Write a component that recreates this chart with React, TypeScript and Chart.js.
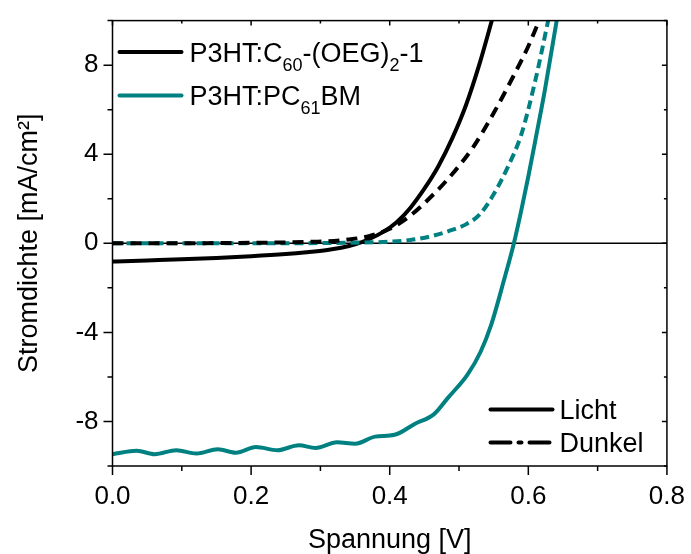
import { useEffect, useRef } from "react";
import { Chart, registerables } from "chart.js";

Chart.register(...registerables);

const FONT = "'Liberation Sans', Arial, sans-serif";
const TEAL = "#008080";
const BLACK = "#000000";

// P3HT:C60-(OEG)2-1, illuminated (Licht)
const c60LightV = [0, 0.05, 0.1, 0.15, 0.2, 0.25, 0.28, 0.31, 0.33, 0.35, 0.37, 0.39, 0.41, 0.43, 0.45, 0.47, 0.49, 0.51, 0.53, 0.55];
const c60LightJ = [-0.82, -0.77, -0.72, -0.66, -0.58, -0.48, -0.4, -0.3, -0.2, -0.05, 0.18, 0.5, 0.95, 1.6, 2.45, 3.45, 4.7, 6.2, 8.1, 10.3];

// P3HT:C60-(OEG)2-1, dark (Dunkel)
const c60DarkV = [0, 0.05, 0.1, 0.15, 0.2, 0.25, 0.28, 0.31, 0.34, 0.37, 0.4, 0.43, 0.46, 0.49, 0.52, 0.55, 0.58, 0.6, 0.615, 0.62];
const c60DarkJ = [0, 0, 0, 0.01, 0.02, 0.04, 0.06, 0.09, 0.17, 0.32, 0.65, 1.25, 2.1, 3.1, 4.3, 5.85, 7.6, 8.85, 9.95, 10.3];

// P3HT:PC61BM, illuminated (Licht)
const pcbmLightV = [0, 0.035, 0.061, 0.092, 0.121, 0.152, 0.178, 0.207, 0.238, 0.269, 0.293, 0.324, 0.35, 0.379, 0.407, 0.436, 0.464, 0.484, 0.512, 0.531, 0.546, 0.565, 0.579, 0.59, 0.6, 0.61, 0.624, 0.642];
const pcbmLightJ = [-9.47, -9.32, -9.47, -9.29, -9.44, -9.25, -9.4, -9.15, -9.29, -9.07, -9.19, -8.93, -9.0, -8.68, -8.6, -8.11, -7.67, -6.94, -5.91, -4.88, -3.7, -1.64, -0.02, 1.5, 3.0, 4.6, 6.9, 10.2];

// P3HT:PC61BM, dark (Dunkel)
const pcbmDarkV = [0, 0.1, 0.2, 0.3, 0.35, 0.4, 0.43, 0.46, 0.49, 0.51, 0.53, 0.55, 0.57, 0.59, 0.61, 0.63];
const pcbmDarkJ = [0, 0, 0, 0.01, 0.03, 0.07, 0.15, 0.32, 0.6, 0.85, 1.3, 2.2, 3.4, 4.9, 7.3, 10.2];

const xLabelValues = [0, 0.2, 0.4, 0.6, 0.8];
const yLabelValues = [-8, -4, 0, 4, 8];

const xTitle = "Spannung [V]";
const yTitle = "Stromdichte [mA/cm²]";

const materialLegend = [
  { color: BLACK, runs: [{ t: "P3HT:C" }, { t: "60", sub: true }, { t: "-(OEG)" }, { t: "2", sub: true }, { t: "-1" }] },
  { color: TEAL, runs: [{ t: "P3HT:PC" }, { t: "61", sub: true }, { t: "BM" }] },
];
const modeLegend = [
  { label: "Licht", dash: [] as number[] },
  { label: "Dunkel", dash: [20, 8, 3, 8] },
];

const pts = (v: number[], j: number[]) => v.map((x, i) => ({ x, y: j[i] }));

const isLabeled = (list: number[], v: number) => list.some((l) => Math.abs(l - v) < 1e-6);

const framePlugin = {
  id: "frame",
  beforeDatasetsDraw(chart: any) {
    const { ctx, chartArea: a, scales } = chart;
    const y0 = scales.y.getPixelForValue(0);
    ctx.save();
    ctx.strokeStyle = BLACK;
    ctx.lineWidth = 1.5;
    ctx.beginPath();
    ctx.moveTo(a.left, y0);
    ctx.lineTo(a.right, y0);
    ctx.stroke();
    ctx.restore();
  },
  afterDatasetsDraw(chart: any) {
    const { ctx, chartArea: a, scales } = chart;
    ctx.save();
    ctx.strokeStyle = BLACK;
    ctx.lineWidth = 1.5;
    ctx.strokeRect(a.left, a.top, a.right - a.left, a.bottom - a.top);
    ctx.beginPath();
    for (const t of scales.x.ticks) {
      const px = scales.x.getPixelForValue(t.value);
      const major = isLabeled(xLabelValues, t.value);
      ctx.moveTo(px, a.bottom);
      ctx.lineTo(px, a.bottom + (major ? 9 : 5));
      ctx.moveTo(px, a.top);
      ctx.lineTo(px, a.top + (major ? 5 : 3));
    }
    for (const t of scales.y.ticks) {
      const py = scales.y.getPixelForValue(t.value);
      const major = isLabeled(yLabelValues, t.value);
      ctx.moveTo(a.left, py);
      ctx.lineTo(a.left - (major ? 9 : 5), py);
      ctx.moveTo(a.right, py);
      ctx.lineTo(a.right - (major ? 5 : 3), py);
    }
    ctx.stroke();
    ctx.restore();
  },
};

const legendPlugin = {
  id: "customLegend",
  afterDraw(chart: any) {
    const { ctx, chartArea: a } = chart;
    const big = 27;
    const small = 18;
    ctx.save();
    ctx.textBaseline = "alphabetic";
    ctx.textAlign = "left";
    materialLegend.forEach((item, i) => {
      const ly = a.top + 31.5 + i * 43.3;
      ctx.strokeStyle = item.color;
      ctx.lineWidth = 4;
      ctx.lineCap = "round";
      ctx.setLineDash([]);
      ctx.beginPath();
      ctx.moveTo(a.left + 7, ly);
      ctx.lineTo(a.left + 69, ly);
      ctx.stroke();
      let x = a.left + 77;
      const base = ly + 9.5;
      ctx.fillStyle = BLACK;
      for (const r of item.runs as { t: string; sub?: boolean }[]) {
        ctx.font = `${r.sub ? small : big}px ${FONT}`;
        ctx.fillText(r.t, x, r.sub ? base + 9.5 : base);
        x += ctx.measureText(r.t).width;
      }
    });
    modeLegend.forEach((item, i) => {
      const ly = a.bottom - 56.5 + i * 33;
      ctx.strokeStyle = BLACK;
      ctx.lineWidth = 4;
      ctx.lineCap = "round";
      ctx.setLineDash(item.dash);
      ctx.beginPath();
      ctx.moveTo(a.left + 378, ly);
      ctx.lineTo(a.left + 440, ly);
      ctx.stroke();
      ctx.setLineDash([]);
      ctx.font = `${big}px ${FONT}`;
      ctx.fillStyle = BLACK;
      ctx.fillText(item.label, a.left + 447, ly + 9.5);
    });
    ctx.restore();
  },
};

export default function App() {
  const ref = useRef<HTMLCanvasElement | null>(null);
  useEffect(() => {
    if (!ref.current) return;
    const common = { showLine: true, pointRadius: 0, borderWidth: 4, cubicInterpolationMode: "monotone" as const, clip: 0 };
    const chart = new Chart(ref.current, {
      type: "scatter",
      data: {
        datasets: [
          { ...common, label: "P3HT:C60-(OEG)2-1 Dunkel", data: pts(c60DarkV, c60DarkJ), borderColor: BLACK, borderDash: [11, 7] },
          { ...common, label: "P3HT:PC61BM Dunkel", data: pts(pcbmDarkV, pcbmDarkJ), borderColor: TEAL, borderDash: [9, 5] },
          { ...common, label: "P3HT:C60-(OEG)2-1 Licht", data: pts(c60LightV, c60LightJ), borderColor: BLACK },
          { ...common, label: "P3HT:PC61BM Licht", data: pts(pcbmLightV, pcbmLightJ), borderColor: TEAL },
        ],
      },
      options: {
        animation: false,
        responsive: false,
        devicePixelRatio: 1,
        layout: { padding: { top: 13, right: 19.5, left: 0, bottom: 0 } },
        plugins: { legend: { display: false }, tooltip: { enabled: false } },
        scales: {
          x: {
            type: "linear",
            min: 0,
            max: 0.8,
            border: { display: false },
            grid: { drawOnChartArea: false, drawTicks: true, tickLength: 9, color: "rgba(0,0,0,0)" },
            ticks: {
              stepSize: 0.1,
              autoSkip: false,
              maxRotation: 0,
              padding: 6,
              color: BLACK,
              font: { family: FONT, size: 26 },
              callback: (v: any) => (isLabeled(xLabelValues, Number(v)) ? Number(v).toFixed(1) : ""),
            },
            title: { display: true, text: xTitle, color: BLACK, font: { family: FONT, size: 27, lineHeight: 1 }, padding: { top: 0, bottom: 0 } },
            afterFit: (s: any) => { s.height = 88; },
          },
          y: {
            type: "linear",
            min: -10,
            max: 10,
            border: { display: false },
            grid: { drawOnChartArea: false, drawTicks: true, tickLength: 9, color: "rgba(0,0,0,0)" },
            ticks: {
              stepSize: 2,
              autoSkip: false,
              padding: 5,
              color: BLACK,
              font: { family: FONT, size: 26 },
              callback: (v: any) => (isLabeled(yLabelValues, Number(v)) ? String(Math.round(Number(v))) : ""),
            },
            title: { display: true, text: yTitle, color: BLACK, font: { family: FONT, size: 27, lineHeight: 1 }, padding: { top: 16, bottom: 0 } },
            afterFit: (s: any) => { s.width = 112.5; },
          },
        },
      },
      plugins: [framePlugin, legendPlugin],
    });
    return () => chart.destroy();
  }, []);
  return (
    <div style={{ position: "fixed", left: 0, top: 0, width: 691, height: 554, background: "#fff" }}>
      <canvas ref={ref} width={691} height={554} style={{ width: 691, height: 554 }} />
    </div>
  );
}
